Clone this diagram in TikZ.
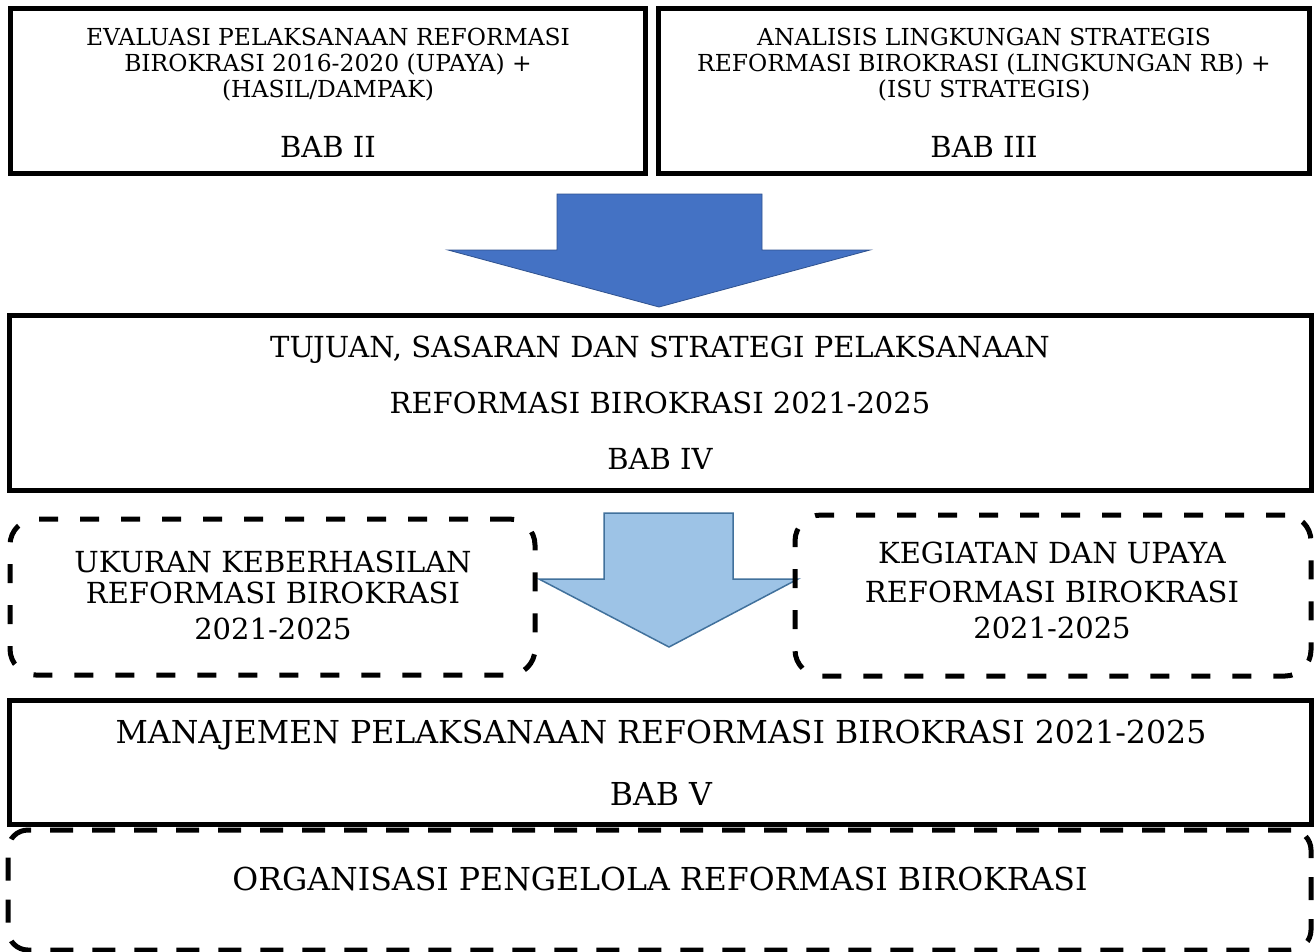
\documentclass[tikz,border=0pt]{standalone}
\usepackage{fontspec}
\setmainfont{DejaVu Serif}
\definecolor{darkarrow}{HTML}{4472C4}
\definecolor{darkedge}{HTML}{2F528F}
\definecolor{lightarrow}{HTML}{9DC3E6}
\definecolor{lightedge}{HTML}{41719C}
\begin{document}
\begin{tikzpicture}[x=1pt,y=-1pt,
  solidbox/.style={draw=black,line width=5pt,inner sep=0pt},
  dashbox/.style={draw=black,line width=5pt,inner sep=0pt,dash pattern=on 19pt off 22pt,rounded corners=26pt},
  dashboxwide/.style={draw=black,line width=5pt,inner sep=0pt,dash pattern=on 23pt off 19pt,rounded corners=20pt},
  txtsmall/.style={anchor=base,inner sep=0pt,font=\fontsize{23.4}{25}\selectfont},
  txtbab/.style={anchor=base,inner sep=0pt,font=\fontsize{29}{31}\selectfont},
  txtbig/.style={anchor=base,inner sep=0pt,font=\fontsize{29}{31}\selectfont},
  txtmid/.style={anchor=base,inner sep=0pt,font=\fontsize{29}{31}\selectfont},
  txtlarge/.style={anchor=base,inner sep=0pt,font=\fontsize{31.6}{33}\selectfont},
  bigarrow/.style={fill=darkarrow,draw=darkedge,line width=0.8pt,line join=miter},
  smallarrow/.style={fill=lightarrow,draw=lightedge,line width=1.5pt,line join=miter}]
\useasboundingbox (0,0) rectangle (1316,951);
\fill[white] (0,0) rectangle (1316,951);

% block arrows
\draw[bigarrow] (557,194) -- (762,194) -- (762,250) -- (870,250) -- (659,307) -- (448,250) -- (557,250) -- cycle;
\draw[smallarrow] (604,513) -- (733,513) -- (733,579) -- (798,579) -- (669,647) -- (539,579) -- (604,579) -- cycle;

% boxes
\node[solidbox,minimum width=635pt,minimum height=165pt] (A) at (328,91) {};
\node[solidbox,minimum width=651pt,minimum height=165pt] (B) at (984,91) {};
\node[solidbox,minimum width=1302pt,minimum height=175pt] (C) at (660.5,403) {};
\node[dashbox,minimum width=525pt,minimum height=156pt] (D) at (272.5,597) {};
\node[dashbox,minimum width=516pt,minimum height=161pt] (E) at (1053,595.5) {};
\node[solidbox,minimum width=1302pt,minimum height=124pt] (F) at (660.5,762.5) {};
\node[dashboxwide,minimum width=1303pt,minimum height=120pt] (G) at (659.5,890) {};

% texts box A
\node[txtsmall] (a1) at (328,45) {EVALUASI PELAKSANAAN REFORMASI};
\node[txtsmall] (a2) at (328,71) {BIROKRASI 2016-2020 (UPAYA) +};
\node[txtsmall] (a3) at (328,97) {(HASIL/DAMPAK)};
\node[txtbab] (a4) at (328,157) {BAB II};
% texts box B
\node[txtsmall] (b1) at (984,45) {ANALISIS LINGKUNGAN STRATEGIS};
\node[txtsmall] (b2) at (984,71) {REFORMASI BIROKRASI (LINGKUNGAN RB) +};
\node[txtsmall] (b3) at (984,97) {(ISU STRATEGIS)};
\node[txtbab] (b4) at (984,157) {BAB III};
% texts box C
\node[txtbig] (c1) at (660,357) {TUJUAN, SASARAN DAN STRATEGI PELAKSANAAN};
\node[txtbig] (c2) at (660,413) {REFORMASI BIROKRASI 2021-2025};
\node[txtbig] (c3) at (660,469) {BAB IV};
% texts box D
\node[txtmid] (d1) at (273,572) {UKURAN KEBERHASILAN};
\node[txtmid] (d2) at (273,603) {REFORMASI BIROKRASI};
\node[txtmid] (d3) at (273,639) {2021-2025};
% texts box E
\node[txtmid] (e1) at (1052,563) {KEGIATAN DAN UPAYA};
\node[txtmid] (e2) at (1052,602) {REFORMASI BIROKRASI};
\node[txtmid] (e3) at (1052,638) {2021-2025};
% texts box F
\node[txtlarge] (f1) at (661,743) {MANAJEMEN PELAKSANAAN REFORMASI BIROKRASI 2021-2025};
\node[txtlarge] (f2) at (661,805) {BAB V};
% text box G
\node[txtlarge] (g1) at (660,890) {ORGANISASI PENGELOLA REFORMASI BIROKRASI};
\end{tikzpicture}
\end{document}
